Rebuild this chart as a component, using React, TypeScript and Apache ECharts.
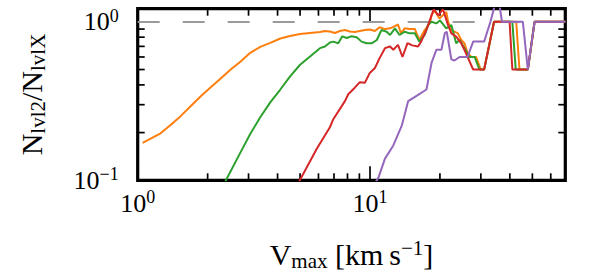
import React, { useEffect, useRef } from 'react';
import * as echarts from 'echarts';

// ---- axis ranges & ticks ----
const X_MIN = 1;
const X_MAX = 69.3;
const Y_MIN = 0.1;
const Y_MAX = 1.21;
const X_MAJOR = [1, 10];
const X_MINOR = [2, 3, 4, 5, 6, 7, 8, 9, 20, 30, 40, 50, 60];
const Y_MAJOR = [0.1, 1];
const Y_MINOR = [0.2, 0.3, 0.4, 0.5, 0.6, 0.7, 0.8, 0.9];
const REF_LEVEL = 1;

// ---- series (Vmax, N_lvl2/N_lvlX) ----
const orange: [number, number][] = [
  [1.05, 0.172], [1.137, 0.183], [1.255, 0.198], [1.385, 0.223], [1.53, 0.254], [1.689, 0.293],
  [1.864, 0.338], [2.057, 0.385], [2.27, 0.438], [2.506, 0.499], [2.766, 0.56], [3.05, 0.637],
  [3.37, 0.695], [3.72, 0.736], [4.11, 0.785], [4.53, 0.814], [5.0, 0.838], [5.52, 0.85],
  [6.09, 0.862], [6.4, 0.875], [6.72, 0.868], [7.06, 0.85], [7.42, 0.875], [7.8, 0.887],
  [8.19, 0.868], [8.6, 0.862], [9.04, 0.875], [9.5, 0.887], [9.98, 0.894], [10.5, 0.875],
  [11.0, 0.925], [11.6, 0.9], [12.2, 0.91], [12.8, 0.94], [13.2, 0.962], [13.6, 0.846],
  [14.1, 0.91], [14.8, 0.9], [15.6, 0.9], [16.3, 0.768], [17.2, 0.887], [18.1, 0.98],
  [18.4, 1.1], [19.0, 1.18], [19.9, 1.05], [20.6, 1.1], [21.3, 1.155], [21.7, 1.0],
  [22.4, 0.887], [23.9, 0.846], [24.7, 0.768], [25.5, 0.733], [26.3, 0.637], [27.3, 0.6],
  [28.6, 0.6], [30.0, 0.5], [31.0, 0.5], [34.2, 1.0], [42.6, 1.0], [44.0, 0.5], [47.8, 0.5],
  [51.1, 1.0], [69.3, 1.0],
];
const green: [number, number][] = [
  [2.38, 0.098], [2.77, 0.15], [3.05, 0.196], [3.37, 0.25], [3.72, 0.31], [4.11, 0.374],
  [4.53, 0.453], [5.0, 0.536], [5.52, 0.605], [6.09, 0.682], [6.4, 0.698], [6.72, 0.74],
  [6.95, 0.75], [7.3, 0.733], [7.6, 0.81], [7.93, 0.79], [8.3, 0.81], [8.76, 0.8], [9.2, 0.75],
  [9.67, 0.733], [10.2, 0.733], [10.7, 0.768], [11.2, 0.887], [11.8, 0.866], [12.2, 0.826],
  [12.8, 0.91], [13.4, 0.826], [14.1, 0.866], [14.8, 0.846], [15.6, 0.846], [16.3, 0.75],
  [17.2, 0.826], [17.8, 0.96], [18.4, 1.0], [19.3, 0.977], [20.0, 1.02], [21.3, 0.91],
  [22.4, 0.954], [23.5, 0.733], [24.3, 0.768], [25.5, 0.682], [26.8, 0.6], [28.2, 0.6],
  [29.6, 0.5], [31.0, 0.5], [34.2, 1.0], [41.0, 1.0], [42.4, 0.5], [47.8, 0.5], [51.1, 1.0],
  [69.3, 1.0],
];
const red: [number, number][] = [
  [4.95, 0.098], [5.9, 0.158], [6.72, 0.216], [6.95, 0.243], [7.8, 0.316], [8.06, 0.349],
  [8.6, 0.384], [9.04, 0.416], [9.5, 0.412], [9.98, 0.476], [10.5, 0.511], [11.0, 0.59],
  [11.6, 0.682], [12.2, 0.698], [12.6, 0.666], [13.2, 0.715], [13.8, 0.6], [14.5, 0.733],
  [15.2, 0.71], [16.1, 0.698], [16.6, 0.75], [17.6, 0.91], [18.8, 1.2], [19.7, 1.1],
  [20.6, 1.2], [21.7, 0.95], [22.4, 0.846], [23.5, 0.806], [24.7, 0.733], [25.5, 0.666],
  [27.8, 0.5], [31.0, 0.5], [34.2, 1.0], [39.9, 1.0], [41.0, 0.5], [47.8, 0.5], [51.1, 1.0],
  [69.3, 1.0],
];
const purple: [number, number][] = [
  [10.6, 0.098], [10.9, 0.105], [11.6, 0.137], [12.6, 0.166], [13.7, 0.221], [14.6, 0.316],
  [15.8, 0.34], [17.5, 0.374], [18.4, 0.55], [19.3, 0.666], [20.3, 0.666], [21.0, 0.85],
  [21.4, 0.866], [22.4, 0.58], [23.1, 0.57], [24.3, 0.6], [26.3, 0.6], [27.8, 0.75],
  [31.0, 0.75], [33.0, 1.0], [35.5, 1.5], [37.0, 1.0], [45.5, 1.0], [47.8, 0.5], [51.1, 1.0],
  [69.3, 1.0],
];

const FONT = "'Liberation Serif', 'DejaVu Serif', serif";

const fmtPow = (v: number) => {
  const e = Math.log10(v);
  const r = Math.round(e);
  if (Math.abs(e - r) > 1e-6) return '';
  const exp = r < 0 ? '\u2212' + -r : String(r);
  return `{n|10}{s|${exp}}`;
};

const tickRich = {
  n: { fontFamily: FONT, fontSize: 26, lineHeight: 30, color: '#000' },
  s: { fontFamily: FONT, fontSize: 18, lineHeight: 12, verticalAlign: 'top', color: '#000' },
};
const nameRich = {
  a: { fontFamily: FONT, fontSize: 30, lineHeight: 34, color: '#000' },
  b: { fontFamily: FONT, fontSize: 21, lineHeight: 10, verticalAlign: 'bottom', color: '#000' },
  c: { fontFamily: FONT, fontSize: 21, lineHeight: 10, verticalAlign: 'top', color: '#000' },
};

export default function App() {
  const ref = useRef<HTMLDivElement>(null);
  useEffect(() => {
    if (!ref.current) return;
    const chart = echarts.init(ref.current, undefined, { renderer: 'svg' });
    const lineSeries = (name: string, data: [number, number][], color: string, z: number) => ({
      type: 'line',
      name,
      data,
      showSymbol: false,
      symbol: 'none',
      lineStyle: { color, width: 2 },
      itemStyle: { color },
      emphasis: { disabled: true },
      silent: true,
      clip: true,
      z,
    });
    chart.setOption({
      animation: false,
      backgroundColor: '#fff',
      grid: { left: 137.7, right: 32.7, top: 8.7, bottom: 96.7, show: false },
      xAxis: {
        type: 'log',
        logBase: 10,
        min: X_MIN,
        max: X_MAX,
        axisLine: { show: false },
        axisTick: { show: false },
        minorTick: { show: false },
        splitLine: { show: false },
        axisLabel: { margin: 8, formatter: fmtPow, rich: tickRich, showMaxLabel: false, showMinLabel: true },
        name: '{a|V}{b|max}{a| [km\u2009s}{c|\u22121}{a|]}',
        nameLocation: 'middle',
        nameGap: 57,
        nameTextStyle: { fontFamily: FONT, fontSize: 30, rich: nameRich },
      },
      yAxis: {
        type: 'log',
        logBase: 10,
        min: Y_MIN,
        max: Y_MAX,
        axisLine: { show: false },
        axisTick: { show: false },
        minorTick: { show: false },
        splitLine: { show: false },
        axisLabel: { margin: 19, formatter: fmtPow, rich: tickRich, showMaxLabel: false, showMinLabel: true },
        name: '{a|N}{b|lvl2}{a|/N}{b|lvlX}',
        nameLocation: 'middle',
        nameRotate: 90,
        nameGap: 89,
        nameTextStyle: { fontFamily: FONT, fontSize: 30, rich: nameRich },
      },
      series: [
        {
          type: 'line',
          data: [],
          silent: true,
          z: 1,
          markLine: {
            silent: true,
            symbol: 'none',
            animation: false,
            label: { show: false },
            lineStyle: { color: '#9a9a9a', width: 2, type: [22, 23] },
            data: [{ yAxis: REF_LEVEL }],
          },
        },
        lineSeries('orange', orange, '#ff7f0e', 3),
        lineSeries('green', green, '#2ca02c', 4),
        lineSeries('red', red, '#d62728', 5),
        lineSeries('purple', purple, '#9467bd', 6),
      ],
    });

    // Frame and inward ticks, positioned through the axes' own scales
    const xp = (v: number) => chart.convertToPixel({ xAxisIndex: 0 }, v) as number;
    const yp = (v: number) => chart.convertToPixel({ yAxisIndex: 0 }, v) as number;
    const L = xp(X_MIN);
    const R = xp(X_MAX);
    const T = yp(Y_MAX);
    const B = yp(Y_MIN);
    const TW = 1.7; // tick thickness
    const els: any[] = [];
    let n = 0;
    const box = (x: number, y: number, w: number, h: number) => {
      n += 1;
      els.push({
        type: 'rect',
        id: 'tick' + n,
        shape: { x, y, width: w, height: h },
        style: { fill: '#000' },
      });
    };
    const addX = (v: number, len: number) => {
      const x = xp(v);
      box(x - TW / 2, B - len, TW, len);
      box(x - TW / 2, T, TW, len);
    };
    const addY = (v: number, len: number) => {
      const y = yp(v);
      box(L, y - TW / 2, len, TW);
      box(R - len, y - TW / 2, len, TW);
    };
    X_MAJOR.forEach((v) => addX(v, 14));
    X_MINOR.forEach((v) => addX(v, 7));
    Y_MAJOR.forEach((v) => addY(v, 14));
    Y_MINOR.forEach((v) => addY(v, 7));
    els.push({
      type: 'rect',
      id: 'frame',
      shape: { x: L, y: T, width: R - L, height: B - T },
      style: { fill: 'none', stroke: '#000', lineWidth: 3.2 },
    });
    chart.setOption({ graphic: els });
    return () => chart.dispose();
  }, []);
  return (
    <div
      ref={ref}
      style={{ position: 'fixed', left: 0, top: 0, width: 598, height: 277, background: '#fff' }}
    />
  );
}
